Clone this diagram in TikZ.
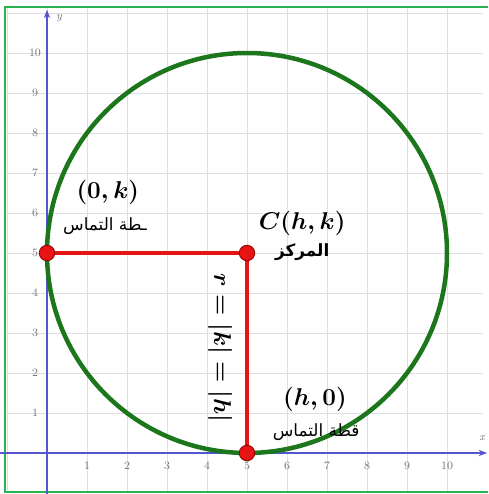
\documentclass[tikz,border=0pt]{standalone}
\usepackage{amsmath}
\usepackage{fontspec}
\usetikzlibrary{positioning, arrows.meta}
\newfontfamily\arabicfont[Script=Arabic]{DejaVu Sans}
\TeXXeTstate=1
\definecolor{circgreen}{RGB}{28,118,28}
\definecolor{framegreen}{RGB}{40,180,80}
\definecolor{axisblue}{RGB}{85,85,205}
\definecolor{gridgray}{RGB}{222,222,230}
\definecolor{tickgray}{RGB}{115,115,115}
\definecolor{ptred}{RGB}{232,20,20}

\begin{document}
\begin{tikzpicture}[
  ptdot/.style={circle, fill=ptred, draw=red!55!black, line width=0.6pt, minimum size=11pt, inner sep=0pt},
  ticklbl/.style={font=\footnotesize, text=tickgray, inner sep=1pt},
  mathlbl/.style={font=\fontsize{17}{19}\selectfont\boldmath},
  arlbl/.style={font=\fontsize{12}{14}\selectfont\arabicfont, inner sep=1pt}
]
\useasboundingbox (-1.175,-1.025) rectangle (11.025,11.325);

% Grid and frame
\draw[gridgray, line width=0.7pt] (-1.05,-0.975) grid (10.9,11.15);
\draw[framegreen, line width=1.6pt] (11.025,11.15) -- (-1.05,11.15) -- (-1.05,-0.975) -- (11.025,-0.975);

% Axes
\draw[axisblue, line width=1.4pt, -{Stealth[length=6pt]}] (-1.2,0) -- (11.0,0);
\draw[axisblue, line width=1.4pt, -{Stealth[length=6pt]}] (0,-1.1) -- (0,11.08);
\node[ticklbl, font=\footnotesize\itshape] (xlbl) at (10.88,0.38) {x};
\node[ticklbl, font=\footnotesize\itshape] (ylbl) at (0.3,10.88) {y};

% Tick labels
\foreach \i in {1,...,10} {
  \node[ticklbl] (xt\i) at (\i,-0.33) {\i};
  \node[ticklbl] (yt\i) at (-0.3,\i) {\i};
}

% Circle
\draw[circgreen, line width=3.2pt] (5,5) circle (5);

% Points
\coordinate (ty) at (0,5);
\coordinate (c) at (5,5);
\coordinate (tx) at (5,0);
\draw[ptred, line width=3.5pt] (ty) -- (c) -- (tx);
\node[ptdot] (ptY) at (ty) {};
\node[ptdot] (ptC) at (c) {};
\node[ptdot] (ptX) at (tx) {};

% Labels
\node[mathlbl] (lblY) at (1.52,6.52) {$(0,k)$};
\node[arlbl] (arY) at (1.45,5.68) {\beginR ـطة التماس\endR};
\node[mathlbl] (lblC) at (6.38,5.75) {$C(h,k)$};
\node[arlbl, font=\fontsize{12}{14}\selectfont\arabicfont\bfseries] (arC) at (6.38,5.03) {\beginR المركز\endR};
\node[mathlbl] (lblX) at (6.7,1.33) {$(h,0)$};
\node[arlbl] (arX) at (6.73,0.53) {\beginR قطة التماس\endR};
\node[mathlbl, rotate=-90] (rad) at (4.33,2.63) {$r=|k|=|h|$};

\end{tikzpicture}
\end{document}
